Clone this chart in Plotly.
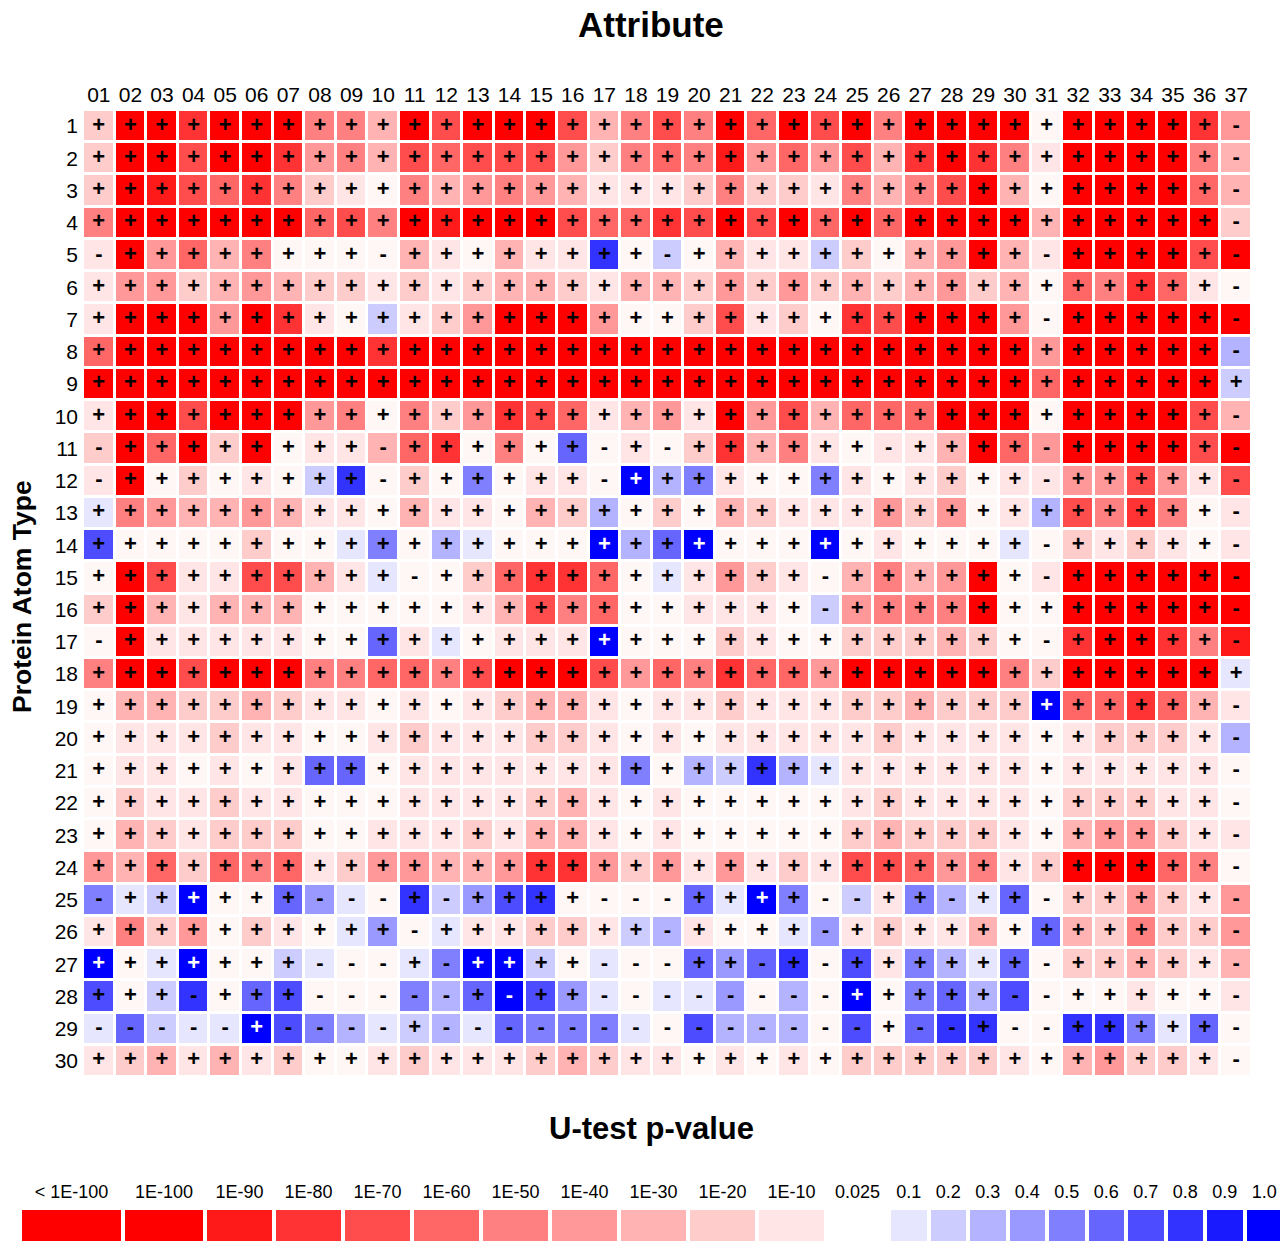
import plotly.graph_objects as go

# Attribute columns and protein atom type rows
columns = ["01", "02", "03", "04", "05", "06", "07", "08", "09", "10",
           "11", "12", "13", "14", "15", "16", "17", "18", "19", "20",
           "21", "22", "23", "24", "25", "26", "27", "28", "29", "30",
           "31", "32", "33", "34", "35", "36", "37"]
rows = [str(i) for i in range(1, 31)]

# p-value bins (index used in level_rows) and their colours
p_bins = ["< 1E-100", "1E-100", "1E-90", "1E-80", "1E-70", "1E-60", "1E-50",
          "1E-40", "1E-30", "1E-20", "1E-10", "0.025",
          "0.1", "0.2", "0.3", "0.4", "0.5", "0.6", "0.7", "0.8", "0.9", "1.0"]
bin_colors = ["#FF0000", "#FF0000", "#FF1A1A", "#FF3333", "#FF4D4D", "#FF6666",
              "#FF8080", "#FF9999", "#FFB3B3", "#FFCCCC", "#FFE5E5", "#FFF6F6",
              "#E6E6FF", "#CCCCFF", "#B3B3FF", "#9999FF", "#8080FF", "#6666FF",
              "#4D4DFF", "#3333FF", "#1A1AFF", "#0000FF"]

# p-value bin of every cell (row = atom type, column = attribute)
level_rows = [
    [9, 0, 1, 3, 1, 1, 1, 6, 6, 8, 0, 4, 1, 1, 1, 4, 8, 6, 4, 6, 1, 5, 1, 4, 1, 6, 1, 1, 1, 1, 11, 0, 0, 0, 0, 3, 7],
    [9, 0, 1, 4, 1, 1, 3, 7, 6, 8, 4, 5, 4, 4, 4, 7, 9, 6, 5, 6, 2, 7, 5, 7, 4, 8, 3, 1, 3, 6, 10, 0, 0, 0, 0, 6, 8],
    [9, 0, 2, 4, 5, 3, 6, 9, 10, 11, 6, 8, 7, 6, 7, 8, 10, 10, 10, 9, 6, 9, 9, 10, 6, 8, 6, 4, 1, 8, 11, 0, 0, 0, 0, 5, 8],
    [6, 0, 1, 1, 1, 1, 1, 5, 4, 6, 0, 2, 0, 1, 1, 4, 5, 5, 3, 4, 1, 4, 1, 5, 1, 5, 1, 1, 1, 1, 8, 0, 0, 0, 0, 1, 9],
    [10, 0, 7, 5, 8, 6, 11, 11, 11, 11, 8, 10, 11, 8, 10, 10, 19, 11, 13, 11, 8, 10, 10, 13, 9, 11, 8, 7, 1, 8, 10, 0, 0, 0, 0, 4, 1],
    [10, 7, 7, 9, 8, 7, 8, 9, 9, 10, 9, 10, 9, 8, 8, 9, 10, 8, 8, 9, 7, 9, 7, 9, 8, 9, 8, 7, 9, 8, 11, 5, 6, 3, 5, 10, 11],
    [10, 0, 1, 1, 7, 1, 3, 10, 11, 13, 10, 9, 7, 1, 1, 1, 7, 11, 11, 9, 4, 10, 9, 11, 3, 4, 1, 1, 1, 7, 11, 1, 1, 1, 1, 1, 1],
    [5, 1, 1, 1, 1, 1, 1, 1, 1, 3, 1, 1, 1, 1, 1, 1, 1, 1, 1, 1, 1, 1, 1, 1, 1, 1, 1, 1, 1, 1, 7, 1, 1, 1, 1, 1, 14],
    [1, 1, 1, 1, 1, 1, 1, 1, 1, 1, 1, 1, 1, 1, 1, 1, 1, 1, 1, 1, 1, 1, 1, 1, 1, 1, 1, 1, 1, 1, 5, 1, 1, 1, 1, 1, 13],
    [10, 1, 1, 4, 1, 1, 1, 7, 6, 11, 6, 9, 7, 3, 4, 5, 10, 8, 7, 10, 1, 7, 4, 8, 5, 5, 5, 1, 1, 1, 11, 1, 1, 1, 1, 4, 8],
    [9, 1, 5, 1, 9, 1, 11, 10, 10, 8, 5, 3, 11, 6, 11, 17, 11, 10, 11, 9, 3, 8, 6, 10, 11, 10, 10, 8, 1, 5, 7, 1, 1, 1, 1, 4, 1],
    [10, 1, 11, 9, 11, 10, 11, 13, 19, 11, 9, 11, 16, 11, 10, 10, 11, 21, 14, 16, 10, 11, 11, 16, 10, 11, 10, 9, 11, 10, 10, 7, 7, 4, 7, 10, 4],
    [12, 6, 7, 8, 8, 7, 8, 10, 10, 11, 8, 10, 10, 11, 8, 9, 14, 11, 9, 11, 8, 9, 10, 10, 10, 7, 9, 7, 11, 10, 14, 4, 6, 3, 6, 11, 10],
    [18, 11, 11, 11, 11, 9, 11, 11, 12, 16, 11, 14, 12, 11, 11, 11, 21, 14, 17, 21, 11, 11, 11, 21, 11, 10, 11, 11, 11, 12, 11, 9, 10, 9, 10, 11, 10],
    [11, 1, 4, 10, 10, 4, 4, 8, 10, 12, 11, 11, 9, 5, 3, 3, 5, 11, 12, 10, 7, 9, 10, 11, 8, 6, 8, 7, 1, 11, 10, 1, 1, 1, 1, 1, 1],
    [9, 1, 8, 10, 8, 8, 8, 11, 11, 11, 11, 11, 10, 8, 4, 6, 5, 11, 11, 10, 10, 10, 11, 13, 7, 6, 6, 6, 1, 11, 11, 1, 1, 1, 1, 1, 1],
    [11, 1, 10, 10, 10, 10, 10, 11, 11, 17, 10, 12, 11, 10, 10, 10, 21, 11, 11, 11, 9, 10, 11, 11, 9, 9, 9, 8, 9, 11, 11, 3, 1, 1, 3, 6, 2],
    [6, 1, 1, 4, 1, 1, 1, 6, 6, 5, 5, 6, 4, 1, 1, 1, 4, 7, 5, 6, 3, 5, 5, 7, 1, 1, 1, 1, 1, 6, 9, 1, 1, 1, 1, 1, 12],
    [11, 8, 8, 9, 9, 8, 9, 10, 10, 11, 10, 11, 10, 9, 8, 8, 10, 11, 10, 10, 9, 10, 10, 10, 9, 9, 8, 9, 9, 9, 21, 5, 5, 3, 5, 8, 10],
    [11, 10, 10, 10, 9, 10, 10, 11, 11, 10, 9, 10, 10, 10, 9, 9, 10, 11, 10, 11, 10, 10, 10, 10, 10, 9, 10, 10, 10, 10, 11, 10, 9, 9, 9, 10, 14],
    [11, 10, 10, 11, 10, 11, 10, 17, 17, 11, 10, 10, 10, 10, 10, 10, 10, 16, 11, 14, 13, 19, 14, 12, 10, 10, 10, 10, 10, 10, 11, 10, 10, 10, 10, 10, 11],
    [11, 9, 10, 10, 9, 10, 10, 11, 11, 11, 10, 10, 10, 10, 9, 8, 10, 11, 10, 11, 11, 11, 11, 11, 10, 9, 10, 10, 10, 10, 11, 9, 9, 9, 10, 10, 11],
    [11, 8, 9, 10, 9, 9, 9, 11, 11, 10, 10, 10, 9, 10, 8, 8, 10, 11, 10, 11, 11, 11, 11, 11, 9, 8, 9, 9, 9, 10, 11, 8, 7, 7, 9, 10, 10],
    [7, 8, 5, 9, 5, 6, 5, 10, 9, 7, 7, 8, 8, 7, 3, 3, 7, 9, 7, 10, 7, 10, 9, 10, 4, 4, 5, 7, 6, 10, 9, 1, 1, 1, 5, 6, 11],
    [16, 12, 13, 21, 11, 11, 17, 15, 12, 11, 19, 13, 15, 18, 19, 11, 11, 11, 11, 17, 12, 21, 16, 11, 13, 10, 16, 14, 12, 17, 11, 9, 9, 7, 9, 10, 7],
    [10, 6, 9, 7, 11, 9, 10, 11, 12, 15, 11, 12, 10, 10, 9, 9, 10, 13, 14, 10, 11, 11, 12, 15, 10, 9, 10, 10, 8, 11, 17, 8, 9, 6, 9, 9, 7],
    [21, 11, 12, 21, 11, 11, 13, 12, 11, 11, 12, 16, 21, 21, 13, 11, 12, 11, 11, 17, 15, 17, 19, 11, 18, 10, 16, 14, 12, 17, 11, 9, 9, 8, 9, 10, 8],
    [18, 11, 13, 19, 11, 17, 18, 11, 11, 11, 16, 14, 17, 21, 18, 15, 12, 11, 12, 12, 15, 11, 14, 11, 21, 11, 16, 17, 14, 18, 11, 11, 11, 10, 11, 11, 10],
    [12, 17, 13, 12, 12, 21, 18, 16, 14, 12, 13, 14, 12, 17, 16, 16, 16, 12, 11, 18, 14, 14, 14, 11, 18, 11, 17, 19, 19, 11, 11, 19, 19, 16, 12, 17, 11],
    [10, 9, 8, 10, 8, 10, 9, 11, 11, 10, 9, 10, 10, 10, 9, 8, 9, 10, 10, 11, 10, 11, 10, 11, 9, 9, 9, 9, 9, 10, 11, 8, 7, 9, 9, 10, 11],
]

# direction of the difference in every cell
sign_rows = [
    "++++++++++" "++++++++++" "++++++++++" "++++++-",
    "++++++++++" "++++++++++" "++++++++++" "++++++-",
    "++++++++++" "++++++++++" "++++++++++" "++++++-",
    "++++++++++" "++++++++++" "++++++++++" "++++++-",
    "-++++++++-" "++++++++-+" "++++++++++" "-+++++-",
    "++++++++++" "++++++++++" "++++++++++" "++++++-",
    "++++++++++" "++++++++++" "++++++++++" "-+++++-",
    "++++++++++" "++++++++++" "++++++++++" "++++++-",
    "++++++++++" "++++++++++" "++++++++++" "+++++++",
    "++++++++++" "++++++++++" "++++++++++" "++++++-",
    "-++++++++-" "++++++-+-+" "+++++-++++" "-+++++-",
    "-++++++++-" "++++++-+++" "++++++++++" "-+++++-",
    "++++++++++" "++++++++++" "++++++++++" "++++++-",
    "++++++++++" "++++++++++" "++++++++++" "-+++++-",
    "++++++++++" "-+++++++++" "+++-++++++" "-+++++-",
    "++++++++++" "++++++++++" "+++-++++++" "++++++-",
    "-+++++++++" "++++++++++" "++++++++++" "-+++++-",
    "++++++++++" "++++++++++" "++++++++++" "+++++++",
    "++++++++++" "++++++++++" "++++++++++" "++++++-",
    "++++++++++" "++++++++++" "++++++++++" "++++++-",
    "++++++++++" "++++++++++" "++++++++++" "++++++-",
    "++++++++++" "++++++++++" "++++++++++" "++++++-",
    "++++++++++" "++++++++++" "++++++++++" "++++++-",
    "++++++++++" "++++++++++" "++++++++++" "++++++-",
    "-++++++---" "+-++++---+" "+++--++-++" "-+++++-",
    "++++++++++" "-+++++++-+" "+++-++++++" "++++++-",
    "+++++++---" "+-++++---+" "+-+-++++++" "-+++++-",
    "+++-+++---" "--+-++----" "----+++++-" "-+++++-",
    "-----+----" "+---------" "-----+--+-" "-+++++-",
    "++++++++++" "++++++++++" "++++++++++" "++++++-",
]

W, H = 1280, 1241
FONT = "Liberation Sans, Arial, Helvetica, sans-serif"

# stepped colour scale: one flat band per p-value bin
n_bins = len(p_bins)
colorscale = []
for i, col in enumerate(bin_colors):
    colorscale.append([i / n_bins, col])
    colorscale.append([(i + 1) / n_bins, col])

fig = go.Figure()

fig.add_trace(go.Heatmap(
    z=level_rows, x=columns, y=rows,
    colorscale=colorscale, zmin=-0.5, zmax=n_bins - 0.5,
    xgap=3, ygap=3, showscale=False, hoverinfo="skip",
))

# +/- markers centred in the cells
tx, ty, tt, tc = [], [], [], []
for r, (lv, sg) in enumerate(zip(level_rows, sign_rows)):
    for c, col in enumerate(columns):
        tx.append(col)
        ty.append(rows[r])
        tt.append(sg[c])
        tc.append("white" if lv[c] >= 20 else "black")

fig.add_trace(go.Scatter(
    x=tx, y=ty, text=tt, mode="text",
    textfont=dict(family=FONT, size=22, color=tc, weight="bold"),
    hoverinfo="skip", showlegend=False,
))

# colour key below the grid
key_start = 20
key_widths = [103, 82] + [69] * 9 + [63] + [39.5] * 10
key_edges = [key_start]
for w in key_widths:
    key_edges.append(key_edges[-1] + w)
key_centers = [(a + b) / 2 for a, b in zip(key_edges[:-1], key_edges[1:])]
key_z = [[None if lab == "0.025" else i for i, lab in enumerate(p_bins)]]

fig.add_trace(go.Heatmap(
    z=key_z, x=key_edges, y=[0], xaxis="x2", yaxis="y2",
    colorscale=colorscale, zmin=-0.5, zmax=n_bins - 0.5,
    xgap=4, showscale=False, hoverinfo="skip",
))

fig.update_layout(
    width=W, height=H,
    margin=dict(l=0, r=0, t=0, b=0, autoexpand=False),
    paper_bgcolor="white", plot_bgcolor="white",
    font=dict(family=FONT, color="black"),
    showlegend=False,
    xaxis=dict(
        domain=[83 / W, 1252 / W], side="top", anchor="y", automargin=False,
        type="category", categoryorder="array", categoryarray=columns,
        range=[-0.5, len(columns) - 0.5],
        showgrid=False, zeroline=False, showline=False, ticks="",
        tickfont=dict(size=21, color="black"), ticklabelstandoff=3,
    ),
    yaxis=dict(
        domain=[1 - 1077 / H, 1 - 110 / H], anchor="x", automargin=False,
        type="category", categoryorder="array", categoryarray=rows,
        range=[len(rows) - 0.5, -0.5],
        showgrid=False, zeroline=False, showline=False, ticks="",
        tickfont=dict(size=21, color="black"), ticklabelstandoff=4,
    ),
    xaxis2=dict(
        domain=[0, 1], range=[0, W], anchor="y2", side="top", automargin=False,
        tickmode="array", tickvals=key_centers, ticktext=p_bins,
        showgrid=False, zeroline=False, showline=False, ticks="",
        tickfont=dict(size=18, color="black"), ticklabelstandoff=7,
    ),
    yaxis2=dict(
        domain=[0, 31 / H], range=[-0.5, 0.5], anchor="x2", visible=False,
        automargin=False,
    ),
    annotations=[
        dict(text="<b>Attribute</b>", x=651 / W, y=1 - 25 / H,
             xref="paper", yref="paper", xanchor="center", yanchor="middle",
             showarrow=False, font=dict(size=35, color="black")),
        dict(text="<b>Protein Atom Type</b>", x=22 / W, y=1 - 597 / H,
             xref="paper", yref="paper", xanchor="center", yanchor="middle",
             textangle=-90, showarrow=False, font=dict(size=26.5, color="black")),
        dict(text="<b>U-test p-value</b>", x=651 / W, y=1 - 1128 / H,
             xref="paper", yref="paper", xanchor="center", yanchor="middle",
             showarrow=False, font=dict(size=31, color="black")),
    ],
)

fig.write_html("out.html")
